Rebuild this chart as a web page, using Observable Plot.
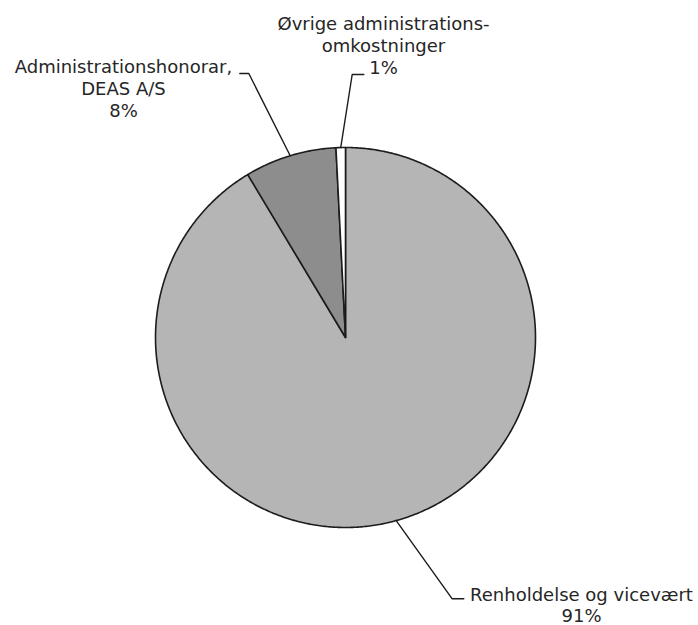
<!DOCTYPE html>
<html>
<head>
<meta charset="utf-8">
<script src="https://cdn.jsdelivr.net/npm/d3@7"></script>
<script src="https://cdn.jsdelivr.net/npm/@observablehq/plot@0.6"></script>
<style>
  html, body { margin: 0; padding: 0; background: #fff; }
  #chart svg { display: block; }
</style>
</head>
<body>
<div id="chart"></div>
<script>
// ---- data ----
const categories = ["Renholdelse og vicevært", "Administrationshonorar, DEAS A/S", "Øvrige administrationsomkostninger"];
const labelLines = [["Renholdelse og vicevært"], ["Administrationshonorar,", "DEAS A/S"], ["Øvrige administrations-", "omkostninger"]];
const values = [91.4, 7.8, 0.8];
const sliceColors = ["#b5b5b5", "#8d8d8d", "#ffffff"];

// ---- layout (pixels) ----
const W = 698, H = 625, CX = 345, CY = 337, R = 190;
const labelLayout = [
  { elbow: [451.7, 598.3], end: [463.3, 598.3], text: [581, 585.5], lh: 1.17 },
  { elbow: [248.3, 73.0],  end: [239.3, 73.0],  text: [123, 57.0], lh: 1.22 },
  { elbow: [351.7, 74.0],  end: [363.3, 74.0],  text: [383, 14.0], lh: 1.22 }
];
const ux = px => (px - CX) / R;
const uy = py => (CY - py) / R;

// ---- pie geometry from the values ----
const arcs = d3.pie().sort(null).startAngle(0).endAngle(2 * Math.PI)(values);
const slicePts = [];
arcs.forEach((a, i) => {
  const cat = categories[i];
  slicePts.push({ cat, x: 0, y: 0 });
  const n = Math.max(2, Math.ceil((a.endAngle - a.startAngle) / (Math.PI / 360)));
  for (let k = 0; k <= n; k++) {
    const t = a.startAngle + (a.endAngle - a.startAngle) * k / n;
    slicePts.push({ cat, x: Math.sin(t), y: Math.cos(t) });
  }
});

const leaderPts = [];
const labels = [];
arcs.forEach((a, i) => {
  const m = (a.startAngle + a.endAngle) / 2;
  const L = labelLayout[i];
  leaderPts.push({ cat: categories[i], x: Math.sin(m), y: Math.cos(m) });
  leaderPts.push({ cat: categories[i], x: ux(L.elbow[0]), y: uy(L.elbow[1]) });
  leaderPts.push({ cat: categories[i], x: ux(L.end[0]), y: uy(L.end[1]) });
  labels.push({
    x: ux(L.text[0]), y: uy(L.text[1]), lh: L.lh,
    text: [...labelLines[i], Math.round(values[i]) + "%"].join("\n")
  });
});

const textMarks = labels.map(l => Plot.text([l], {
  x: "x", y: "y", text: "text",
  textAnchor: "middle", lineAnchor: "top", lineHeight: l.lh,
  fontSize: 18, fill: "#262626",
  fontFamily: "DejaVu Sans, Verdana, sans-serif"
}));

const chart = Plot.plot({
  width: W,
  height: H,
  margin: 0,
  style: { background: "#fff", fontFamily: "DejaVu Sans, Verdana, sans-serif" },
  x: { domain: [-1, 1], range: [CX - R, CX + R], axis: null },
  y: { domain: [-1, 1], range: [CY + R, CY - R], axis: null },
  color: { domain: categories, range: sliceColors },
  marks: [
    Plot.line(slicePts, {
      x: "x", y: "y", z: "cat", fill: "cat",
      stroke: "#1c1c1c", strokeWidth: 1.6, strokeLinejoin: "round",
      curve: "linear-closed"
    }),
    Plot.line(leaderPts, {
      x: "x", y: "y", z: "cat",
      stroke: "#1c1c1c", strokeWidth: 1.4, curve: "linear"
    }),
    ...textMarks
  ]
});
document.getElementById("chart").appendChild(chart);
</script>
</body>
</html>
